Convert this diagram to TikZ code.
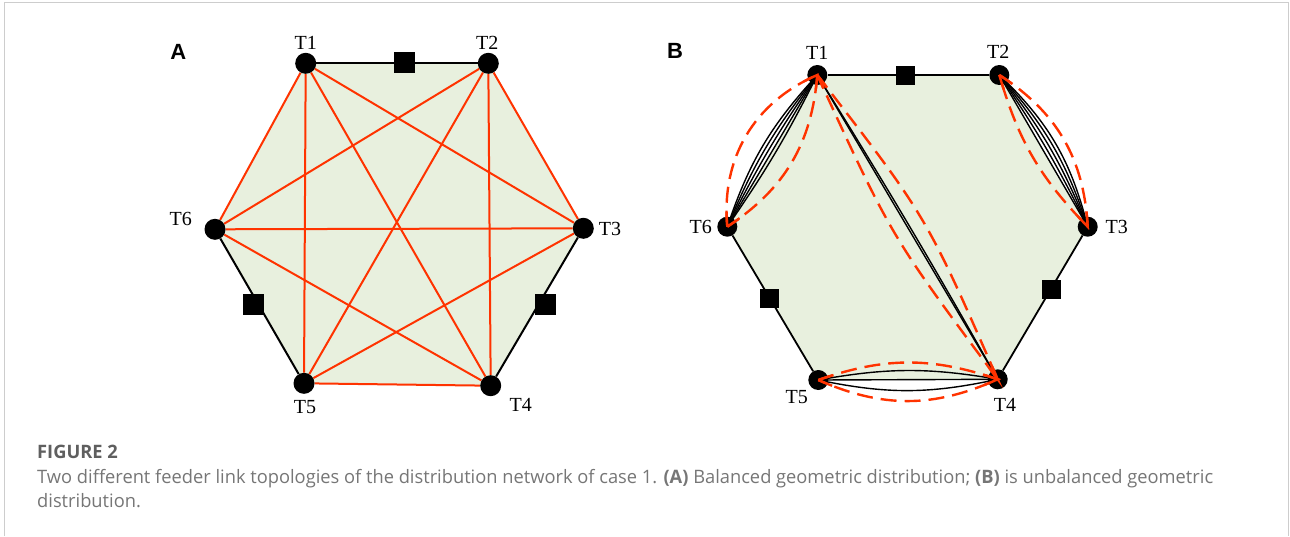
\documentclass[tikz,border=0pt]{standalone}
\usepackage{fontspec}
\usepackage{graphicx}
\setmainfont{Liberation Serif}
\newfontfamily\panelfont{Liberation Sans}
\newfontfamily\capfont{Open Sans}
\usetikzlibrary{backgrounds}
\definecolor{hexfill}{RGB}{232,240,222}
\definecolor{linkred}{RGB}{255,51,0}
\definecolor{capgrey}{RGB}{118,118,118}
\definecolor{capdark}{RGB}{95,95,95}
\definecolor{framegrey}{RGB}{205,205,205}
\newsavebox\captionlinebox
\newdimen\captionlinewd
\tikzset{
  dot/.style={circle,fill=black,minimum size=21pt,inner sep=0pt},
  dotb/.style={circle,fill=black,minimum size=20pt,inner sep=0pt},
  sq/.style={rectangle,fill=black,minimum size=21pt,inner sep=0pt},
  sqb/.style={rectangle,fill=black,minimum size=19pt,inner sep=0pt},
  feeder/.style={draw=black,line width=2pt},
  redlink/.style={draw=linkred,line width=2pt},
  bundle/.style={draw=black,line width=1.4pt},
  lens/.style={draw=linkred,line width=2.4pt,dash pattern=on 16pt off 8pt},
  lenssolid/.style={draw=linkred,line width=2.4pt},
  lab/.style={inner sep=0pt,font=\fontsize{20}{20}\selectfont},
  panel/.style={inner sep=0pt,font=\panelfont\bfseries\fontsize{22}{22}\selectfont},
  capstyle/.style={anchor=base west,inner sep=0pt}
}
\begin{document}
\sbox\captionlinebox{\color{capgrey}\capfont\fontsize{18.5}{20}\selectfont Two different feeder link topologies of the distribution network of case 1. \textbf{(A)} Balanced geometric distribution; \textbf{(B)} is unbalanced geometric}%
\captionlinewd=\wd\captionlinebox
\pgfmathsetmacro\capsc{1176/\captionlinewd}%
\begin{tikzpicture}[x=1pt,y=-1pt]
\useasboundingbox (0,0) rectangle (1290,536);
\draw[framegrey,line width=1.3pt] (4.5,536) -- (4.5,2.7) -- (1288.8,2.7) -- (1288.8,536);

% ---------------- Panel A ----------------
\node[panel] (pA) at (178.3,51.7) {A};
\node[dot] (a1) at (305.7,63.3) {};
\node[dot] (a2) at (488.3,63.3) {};
\node[dot] (a3) at (583.3,228.3) {};
\node[dot] (a4) at (490.7,385.7) {};
\node[dot] (a5) at (304,383.3) {};
\node[dot] (a6) at (215,229.3) {};
\begin{scope}[on background layer]
  \fill[hexfill] (a1.center) -- (a2.center) -- (a3.center) -- (a4.center) -- (a5.center) -- (a6.center) -- cycle;
  \draw[feeder] (a1) -- (a2);
  \draw[feeder] (a3) -- (a4);
  \draw[feeder] (a5) -- (a6);
  \foreach \p/\q in {a1/a3,a1/a4,a1/a5,a1/a6,a2/a3,a2/a4,a2/a5,a2/a6,a3/a5,a3/a6,a4/a5,a4/a6}
    \draw[redlink] (\p) -- (\q);
\end{scope}
\node[sq] (sa1) at (404.3,62.7) {};
\node[sq] (sa2) at (253.3,304.3) {};
\node[sq] (sa3) at (545.3,304.3) {};
\node[lab] (la1) at (305.7,42.7) {T1};
\node[lab] (la2) at (487.3,42.7) {T2};
\node[lab] (la3) at (610,228.5) {T3};
\node[lab] (la4) at (520.7,404.5) {T4};
\node[lab] (la5) at (305,407) {T5};
\node[lab] (la6) at (180.7,219.3) {T6};

% ---------------- Panel B ----------------
\node[panel] (pB) at (675,50.7) {B};
\node[dotb] (b1) at (817.3,75) {};
\node[dotb] (b2) at (999.3,75) {};
\node[dotb] (b3) at (1087.7,226.7) {};
\node[dotb] (b4) at (997.7,379.3) {};
\node[dotb] (b5) at (818.3,380) {};
\node[dotb] (b6) at (727.3,226.7) {};
\begin{scope}[on background layer]
  \fill[hexfill] (b1.center) -- (b2.center) -- (b3.center) -- (b4.center) -- (b5.center) -- (b6.center) -- cycle;
  \draw[feeder,line width=1.8pt] (b1) -- (b2);
  \draw[feeder,line width=1.8pt] (b3) -- (b4);
  \draw[feeder,line width=1.8pt] (b5) -- (b6);
  \foreach \b in {-4,0,4,8,12}
    \draw[bundle] (b6.center) to[bend left=\b] (b1.center);
  \foreach \b in {0,4,8,12,16}
    \draw[bundle] (b2.center) to[bend left=\b] (b3.center);
  \foreach \b in {-12,0,10}
    \draw[bundle] (b5.center) to[bend left=\b] (b4.center);
  \foreach \b in {0,1.2}
    \draw[bundle] (b1.center) to[bend left=\b] (b4.center);
\end{scope}
\node[sqb] (sb1) at (905,75) {};
\node[sqb] (sb2) at (769,298.3) {};
\node[sqb] (sb3) at (1051.7,289.3) {};
% red dashed groupings
\draw[lens] (b6.center) to[bend left=36] (b1.center) to[bend left=26] (b6.center);
\draw[lens] (b2.center) to[bend left=27] (b3.center) to[bend left=14] (b2.center);
\draw[lens] (b5.center) to[bend left=19] (b4.center) to[bend left=24] (b5.center);
\draw[lens] (b1.center) to[bend left=7,looseness=1.3] (b4.center) to[bend left=6,looseness=1.3] (b1.center);
\foreach \n in {b1,b2,b3,b4,b5,b6}{
  \begin{scope}
    \clip (\n.center) circle (15pt);
    \draw[lenssolid] (b6.center) to[bend left=36] (b1.center) to[bend left=26] (b6.center);
    \draw[lenssolid] (b2.center) to[bend left=27] (b3.center) to[bend left=14] (b2.center);
    \draw[lenssolid] (b5.center) to[bend left=19] (b4.center) to[bend left=24] (b5.center);
    \draw[lenssolid] (b1.center) to[bend left=7,looseness=1.3] (b4.center) to[bend left=6,looseness=1.3] (b1.center);
  \end{scope}
}
\node[lab] (lb1) at (817.3,53.3) {T1};
\node[lab] (lb2) at (998.3,51.7) {T2};
\node[lab] (lb3) at (1116.7,227) {T3};
\node[lab] (lb4) at (1005,405) {T4};
\node[lab] (lb5) at (796.7,397) {T5};
\node[lab] (lb6) at (700.7,227) {T6};

% ---------------- Caption ----------------
\node[capstyle,text=capdark] (cfig) at (37,458) {\scalebox{\capsc}[1]{\capfont\bfseries\fontsize{18.5}{20}\selectfont FIGURE 2}};
\node[capstyle] (cl1) at (37,483) {\scalebox{\capsc}[1]{\usebox\captionlinebox}};
\node[capstyle,text=capgrey] (cl2) at (37,507) {\scalebox{\capsc}[1]{\capfont\fontsize{18.5}{20}\selectfont distribution.}};
\end{tikzpicture}
\end{document}
